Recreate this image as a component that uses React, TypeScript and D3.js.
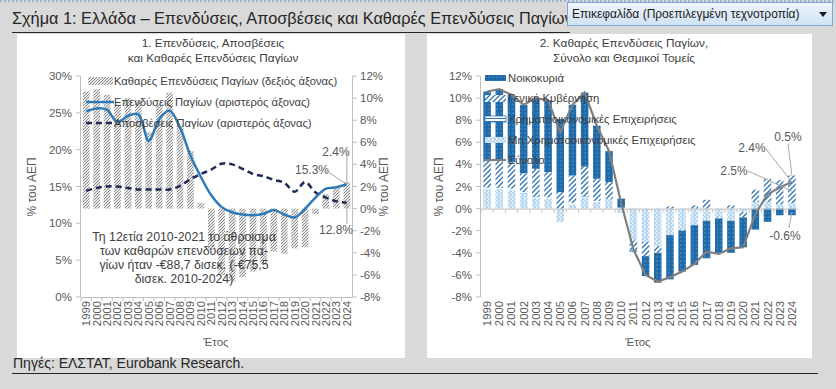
import React from "react";
import * as d3 from "d3";

const years = ["1999","2000","2001","2002","2003","2004","2005","2006","2007","2008","2009","2010","2011","2012","2013","2014","2015","2016","2017","2018","2019","2020","2021","2022","2023","2024"];
const netInvestment = [10.6, 10.8, 10.3, 9.4, 10.0, 9.8, 6.9, 9.4, 10.5, 7.5, 5.2, 0.5, -3.7, -6.0, -6.6, -6.2, -5.7, -5.0, -3.9, -4.1, -3.6, -3.5, -0.5, 1.3, 1.9, 2.4];
const investment = [25.2, 25.6, 25.4, 23.7, 24.6, 24.8, 21.2, 24.1, 25.3, 23.0, 19.2, 16.3, 13.8, 12.2, 11.5, 11.2, 11.1, 11.3, 11.8, 11.2, 10.8, 12.0, 13.5, 14.7, 14.9, 15.3];
const depreciation = [14.4, 14.8, 15.0, 15.0, 14.8, 14.6, 14.6, 14.6, 14.6, 15.1, 16.0, 16.7, 17.3, 18.1, 18.0, 17.4, 16.7, 16.4, 15.9, 15.5, 14.3, 15.6, 14.2, 13.5, 13.0, 12.8];
const households = [6.3, 6.4, 6.1, 6.2, 6.4, 6.5, 6.6, 6.4, 6.7, 4.8, 2.8, 0.8, -0.1, -1.8, -2.7, -4.0, -3.7, -3.6, -3.4, -3.1, -2.9, -2.7, -1.9, -1.2, -0.6, -0.6];
const generalGov = [2.4, 2.5, 2.4, 1.7, 2.5, 2.3, 1.5, 2.5, 2.7, 2.0, 1.5, 0.1, -0.9, -1.3, -0.6, 0.2, -0.1, 0.3, 0.8, -0.1, 0.3, -0.5, 1.1, 2.1, 2.2, 2.5];
const financialCorp = [0.1, 0.1, 0.1, 0.1, 0.1, 0.1, 0.0, 0.1, 0.1, 0.1, 0.0, 0.0, 0.0, 0.0, 0.0, 0.0, 0.0, 0.0, 0.0, 0.0, 0.0, 0.0, 0.0, 0.0, 0.0, 0.0];
const nonFinancialCorp = [1.8, 1.8, 1.7, 1.4, 1.0, 0.9, -1.2, 0.4, 1.0, 0.6, 0.9, -0.4, -2.9, -3.0, -3.4, -2.4, -1.9, -1.5, -1.1, -0.8, -1.1, -0.3, 0.6, 0.6, 0.4, 0.5];
const leftTicks = [0, 5, 10, 15, 20, 25, 30];
const rightTicks = [-8, -6, -4, -2, 0, 2, 4, 6, 8, 10, 12];

const NARROW = "'Liberation Sans Narrow', 'Arial Narrow', 'Liberation Sans', Arial, sans-serif";
const SANS = "'Liberation Sans', Arial, sans-serif";
const AX = "#bfbfbf";
const TXT = "#595959";

export default function App() {
  const xL = d3.scaleBand<string>().domain(years).range([81, 352]).paddingInner(0.36).paddingOuter(0.18);
  const yL = d3.scaleLinear().domain([0, 30]).range([297, 76]);
  const yLR = d3.scaleLinear().domain([-8, 12]).range([297, 76]);
  const xR = d3.scaleBand<string>().domain(years).range([481, 798]).paddingInner(0.38).paddingOuter(0.19);
  const yR = d3.scaleLinear().domain([-8, 12]).range([297, 76]);
  const cL = (i: number) => (xL(years[i]) as number) + xL.bandwidth() / 2;
  const cR = (i: number) => (xR(years[i]) as number) + xR.bandwidth() / 2;

  const invLine = d3.line<number>().x((_, i) => cL(i)).y((d) => yL(d)).curve(d3.curveCatmullRom.alpha(0.5));
  const depLine = d3.line<number>().x((_, i) => cL(i)).y((d) => yL(d)).curve(d3.curveCatmullRom.alpha(0.5));
  const totLine = d3.line<number>().x((_, i) => cR(i)).y((d) => yR(d));

  const stackRows = years.map((y, i) => ({ year: y, nf: nonFinancialCorp[i], fin: financialCorp[i], gg: generalGov[i], hh: households[i] }));
  const keys = ["nf", "fin", "gg", "hh"];
  const fills: Record<string, string> = { nf: "url(#pNF)", fin: "url(#pFin)", gg: "url(#pGG)", hh: "url(#pHH)" };
  const stacked = d3.stack<any>().keys(keys).offset(d3.stackOffsetDiverging)(stackRows);

  const last = years.length - 1;
  const stepL = xL.step();
  const stepR = xR.step();
  const gapL = (stepL - xL.bandwidth()) / 2;
  const gapR = (stepR - xR.bandwidth()) / 2;

  return (
    <svg width={836} height={389} style={{ position: "absolute", left: 0, top: 0 }} fontFamily={NARROW}>
      <defs>
        <pattern id="pGray" width="3" height="3" patternUnits="userSpaceOnUse">
          <rect width="3" height="3" fill="#e8e8e8" />
          <path d="M0,3 L3,0 M-1,1 L1,-1 M2,4 L4,2" stroke="#8c8c8c" strokeWidth="1" />
        </pattern>
        <pattern id="pHH" width="4" height="4" patternUnits="userSpaceOnUse">
          <rect width="4" height="4" fill="#1f6aa9" />
          <circle cx="1" cy="1" r="0.55" fill="#8dbbe3" />
        </pattern>
        <pattern id="pGG" width="5" height="5" patternUnits="userSpaceOnUse">
          <rect width="5" height="5" fill="#ffffff" />
          <path d="M-1,1 L1,-1 M0,5 L5,0 M4,6 L6,4" stroke="#2e75b6" strokeWidth="1.3" />
        </pattern>
        <pattern id="pFin" width="4" height="3" patternUnits="userSpaceOnUse">
          <rect width="4" height="3" fill="#ffffff" />
          <path d="M0,1.5 H4" stroke="#2e75b6" strokeWidth="1" />
        </pattern>
        <pattern id="pNF" width="4" height="4" patternUnits="userSpaceOnUse">
          <rect width="4" height="4" fill="#deeefa" />
          <path d="M0.5,1 H2.5 M2,3 H4" stroke="#6aa6da" strokeWidth="0.8" />
        </pattern>
        <linearGradient id="boxGrad" x1="0" x2="0" y1="0" y2="1">
          <stop offset="0" stopColor="#eef5fc" />
          <stop offset="1" stopColor="#cfe2f5" />
        </linearGradient>
      </defs>

      {/* page background */}
      <rect x={0} y={0} width={836} height={389} fill="#d9d9d9" />
      <line x1={0} x2={836} y1={1} y2={1} stroke="#5b8fd0" strokeDasharray="2,2" />

      {/* main title */}
      <text x={12} y={24} fontFamily={SANS} fontSize={16.3} fill="#262626">Σχήμα 1: Ελλάδα – Επενδύσεις, Αποσβέσεις και Καθαρές Επενδύσεις Παγίων</text>
      <line x1={12} x2={570} y1={32.5} y2={32.5} stroke="#262626" strokeWidth={1.2} />

      {/* Word style box */}
      <rect x={567.5} y={2.5} width={265} height={23} fill="url(#boxGrad)" stroke="#7ea6d6" />
      <text x={572} y={18} fontFamily={SANS} fontSize={12} fill="#1a1a1a">Επικεφαλίδα (Προεπιλεγμένη τεχνοτροπία)</text>
      <path d="M819,12 L827,12 L823,17 Z" fill="#1a1a1a" />

      {/* panels */}
      <rect x={17} y={34} width={388} height={324} fill="#ffffff" />
      <rect x={427} y={34} width={385} height={324} fill="#ffffff" />

      {/* ===== Left chart ===== */}
      <text x={213} y={47} textAnchor="middle" fontSize={11.8} fill="#404040">1. Επενδύσεις, Αποσβέσεις</text>
      <text x={213} y={62} textAnchor="middle" fontSize={11.8} fill="#404040">και Καθαρές Επενδύσεις Παγίων</text>

      {/* bars */}
      {netInvestment.map((v, i) => (
        <rect key={"lb" + i} x={xL(years[i])} width={xL.bandwidth()} y={Math.min(yLR(v), yLR(0))} height={Math.abs(yLR(v) - yLR(0))} fill="url(#pGray)" />
      ))}

      {/* left axis */}
      <line x1={80.5} x2={80.5} y1={76} y2={297} stroke={AX} />
      {leftTicks.map((t) => (
        <g key={"lt" + t}>
          <line x1={76} x2={80.5} y1={yL(t)} y2={yL(t)} stroke={AX} />
          <text x={72} y={yL(t) + 4} textAnchor="end" fontSize={11.5} fill={TXT}>{t}%</text>
        </g>
      ))}
      {/* right axis */}
      <line x1={352.5} x2={352.5} y1={76} y2={297} stroke={AX} />
      {rightTicks.map((t) => (
        <g key={"rt" + t}>
          <line x1={352.5} x2={357} y1={yLR(t)} y2={yLR(t)} stroke={AX} />
          <text x={360} y={yLR(t) + 4} textAnchor="start" fontSize={11.5} fill={TXT}>{t}%</text>
        </g>
      ))}
      {/* x axis */}
      <line x1={80.5} x2={352.5} y1={297.5} y2={297.5} stroke={AX} />
      {years.map((y, i) => (
        <line key={"lxt" + i} x1={(xL(y) as number) - gapL} x2={(xL(y) as number) - gapL} y1={297.5} y2={301} stroke={AX} />
      ))}
      {years.map((y, i) => (
        <text key={"lxl" + i} transform={`translate(${cL(i) + 4},${301}) rotate(-90)`} textAnchor="end" fontFamily={SANS} fontSize={11.3} fill={TXT}>{y}</text>
      ))}
      <text x={216} y={346} textAnchor="middle" fontSize={11.5} fill={TXT}>Έτος</text>
      <text transform="translate(36,187) rotate(-90)" textAnchor="middle" fontSize={12} fill={TXT}>% του ΑΕΠ</text>
      <text transform="translate(388,187) rotate(-90)" textAnchor="middle" fontSize={12} fill={TXT}>% του ΑΕΠ</text>

      {/* lines */}
      <path d={depLine(depreciation) || ""} fill="none" stroke="#1f2a58" strokeWidth={2.5} strokeDasharray="6,4" />
      <path d={invLine(investment) || ""} fill="none" stroke="#2f7ab8" strokeWidth={2.5} />

      {/* annotation text block */}
      <g fontFamily={SANS} fontSize={12.3} fill="#404040" textAnchor="middle">
        <text x={184} y={241}>Τη 12ετία 2010-2021 το άθροισμα</text>
        <text x={184} y={255}>των καθαρών επενδύσεων πα-</text>
        <text x={184} y={269}>γίων ήταν -€88,7 δισεκ. (-€75,5</text>
        <text x={184} y={283}>δισεκ. 2010-2024)</text>
      </g>

      {/* data labels left */}
      <g fontSize={12} fill={TXT} textAnchor="middle">
        <text x={336} y={156}>2.4%</text>
        <line x1={347} y1={151} x2={cL(last)} y2={yLR(netInvestment[last])} stroke="#a6a6a6" />
        <text x={312} y={174}>15.3%</text>
        <line x1={325} y1={170} x2={cL(last)} y2={yL(investment[last])} stroke="#a6a6a6" />
        <text x={336} y={234}>12.8%</text>
        <line x1={347} y1={224} x2={cL(last)} y2={yL(depreciation[last])} stroke="#a6a6a6" />
      </g>

      {/* legend left */}
      <rect x={88} y={77} width={25} height={8} fill="url(#pGray)" />
      <text x={114} y={85} fontSize={11.2} fill="#404040">Καθαρές Επενδύσεις Παγίων (δεξιός άξονας)</text>
      <line x1={86} x2={114} y1={102} y2={102} stroke="#2f7ab8" strokeWidth={2.5} />
      <text x={114} y={106} fontSize={11.2} fill="#404040">Επενδύσεις Παγίων (αριστερός άξονας)</text>
      <line x1={86} x2={114} y1={123} y2={123} stroke="#1f2a58" strokeWidth={2.5} strokeDasharray="6,4" />
      <text x={114} y={127} fontSize={11.2} fill="#404040">Αποσβέσεις Παγίων (αριστερός άξονας)</text>

      {/* ===== Right chart ===== */}
      <text x={624} y={47} textAnchor="middle" fontSize={11.8} fill="#404040">2. Καθαρές Επενδύσεις Παγίων,</text>
      <text x={624} y={62} textAnchor="middle" fontSize={11.8} fill="#404040">Σύνολο και Θεσμικοί Τομείς</text>

      {stacked.map((s) => (
        <g key={s.key} fill={fills[s.key]}>
          {s.map((d, i) => {
            const y0 = yR(d[0]);
            const y1 = yR(d[1]);
            const h = Math.abs(y0 - y1);
            if (h < 0.01) return null;
            return <rect key={i} x={xR(years[i])} width={xR.bandwidth()} y={Math.min(y0, y1)} height={h} />;
          })}
        </g>
      ))}

      <line x1={480.5} x2={480.5} y1={76} y2={297} stroke={AX} />
      {rightTicks.map((t) => (
        <g key={"r2t" + t}>
          <line x1={476} x2={480.5} y1={yR(t)} y2={yR(t)} stroke={AX} />
          <text x={472} y={yR(t) + 4} textAnchor="end" fontSize={11.5} fill={TXT}>{t}%</text>
        </g>
      ))}
      <line x1={480.5} x2={798} y1={yR(0) + 0.5} y2={yR(0) + 0.5} stroke={AX} />
      {years.map((y, i) => (
        <line key={"rxt" + i} x1={(xR(y) as number) - gapR} x2={(xR(y) as number) - gapR} y1={yR(0) + 0.5} y2={yR(0) + 4} stroke={AX} />
      ))}
      {years.map((y, i) => (
        <text key={"rxl" + i} transform={`translate(${cR(i) + 4},${301}) rotate(-90)`} textAnchor="end" fontFamily={SANS} fontSize={11.3} fill={TXT}>{y}</text>
      ))}
      <text x={638} y={346} textAnchor="middle" fontSize={11.5} fill={TXT}>Έτος</text>
      <text transform="translate(443,187) rotate(-90)" textAnchor="middle" fontSize={12} fill={TXT}>% του ΑΕΠ</text>

      <path d={totLine(netInvestment) || ""} fill="none" stroke="#7f7f7f" strokeWidth={2.2} />

      {/* data labels right */}
      <g fontSize={12} fill={TXT} textAnchor="middle">
        <text x={788} y={141}>0.5%</text>
        <line x1={788} y1={144} x2={cR(last)} y2={yR(3.0)} stroke="#a6a6a6" />
        <text x={752} y={152}>2.4%</text>
        <line x1={766} y1={149} x2={cR(last)} y2={yR(netInvestment[last])} stroke="#a6a6a6" />
        <text x={734} y={175}>2.5%</text>
        <line x1={748} y1={171} x2={cR(last)} y2={yR(1.6)} stroke="#a6a6a6" />
        <text x={785} y={240}>-0.6%</text>
        <line x1={789} y1={228} x2={cR(last)} y2={yR(-0.3)} stroke="#a6a6a6" />
      </g>

      {/* legend right */}
      <rect x={485} y={75} width={21} height={6} fill="url(#pHH)" />
      <text x={508} y={82} fontSize={11.3} fill="#404040">Νοικοκυριά</text>
      <rect x={485} y={95} width={21} height={7} fill="url(#pGG)" />
      <text x={508} y={102} fontSize={11.3} fill="#404040">Γενική Κυβέρνηση</text>
      <rect x={485} y={116} width={21} height={6} fill="url(#pFin)" stroke="#2e75b6" strokeWidth={0.8} />
      <text x={508} y={123} fontSize={11.3} fill="#404040">Χρηματοοικονομικές Επιχειρήσεις</text>
      <rect x={485} y={137} width={21} height={6} fill="url(#pNF)" />
      <text x={508} y={144} fontSize={11.3} fill="#404040">Μη Χρηματοοικονομικές Επιχειρήσεις</text>
      <line x1={484} x2={506} y1={160} y2={160} stroke="#7f7f7f" strokeWidth={2.2} />
      <text x={508} y={164} fontSize={11.3} fill="#404040">Σύνολο</text>

      {/* footer */}
      <text x={13} y={368} fontFamily={SANS} fontSize={14} fill="#262626">Πηγές: ΕΛΣΤΑΤ, Eurobank Research.</text>
      <line x1={12} x2={818} y1={373.5} y2={373.5} stroke="#262626" strokeWidth={1.2} />
    </svg>
  );
}
